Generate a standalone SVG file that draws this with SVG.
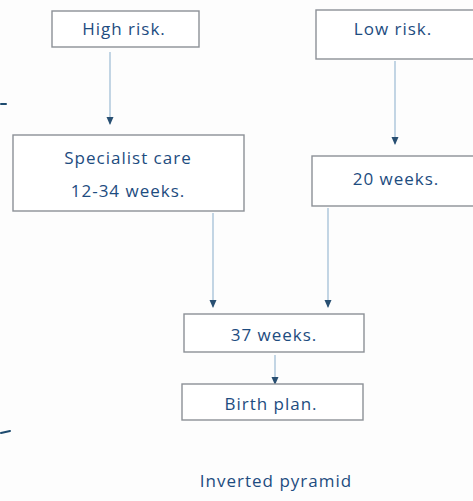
<svg xmlns="http://www.w3.org/2000/svg" width="473" height="501" viewBox="0 0 473 501">
<style>
.box{fill:#ffffff;stroke:#8c9096;stroke-width:1.4}
.t{font-family:"Open Sans","Noto Sans",sans-serif;fill:#1d4c80;font-size:17px;letter-spacing:1px;text-anchor:middle}
.c{stroke:#a9c3d9;stroke-width:1.4;fill:none;marker-end:url(#ah)}
.mark{stroke:#1d4a6e;stroke-width:2;stroke-linecap:round}
</style>
<defs>
<marker id="ah" markerWidth="8" markerHeight="8" refX="7" refY="3.5" orient="auto" markerUnits="userSpaceOnUse" viewBox="0 0 8 7">
<path d="M0,0 L8,3.5 L0,7 z" fill="#284f72"/>
</marker>
</defs>
<rect width="473" height="501" fill="#fdfdfd"/>
<g id="connectors">
<line class="c" x1="110" y1="52" x2="110" y2="124"/>
<line class="c" x1="395" y1="61" x2="395" y2="144"/>
<line class="c" x1="213" y1="213" x2="213" y2="307"/>
<line class="c" x1="328" y1="208" x2="328" y2="307"/>
<line class="c" x1="275" y1="355" x2="275" y2="384"/>
</g>
<g id="high">
<rect class="box" x="52" y="11" width="147" height="36"/>
<text class="t" x="124" y="35">High risk.</text>
</g>
<g id="low">
<rect class="box" x="316" y="10" width="158" height="49"/>
<text class="t" x="393" y="35">Low risk.</text>
</g>
<g id="specialist">
<rect class="box" x="13" y="135" width="231" height="76"/>
<text class="t" x="128" y="164">Specialist care</text>
<text class="t" x="128" y="197">12-34 weeks.</text>
</g>
<g id="w20">
<rect class="box" x="312" y="156" width="163" height="50"/>
<text class="t" x="396" y="185">20 weeks.</text>
</g>
<g id="w37">
<rect class="box" x="184" y="314" width="180" height="38"/>
<text class="t" x="274" y="341">37 weeks.</text>
</g>
<g id="birth">
<rect class="box" x="182" y="384" width="181" height="36"/>
<text class="t" x="271" y="410">Birth plan.</text>
</g>
<text class="t" x="276" y="487">Inverted pyramid</text>
<line class="mark" x1="1" y1="104" x2="6" y2="104"/>
<line class="mark" x1="1" y1="433" x2="10" y2="431"/>
</svg>
